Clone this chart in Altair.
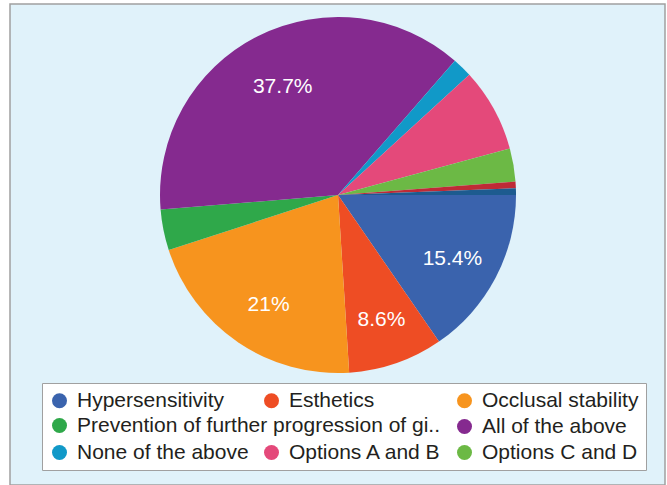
import math
import altair as alt
import pandas as pd

# ---- data ----
categories = [
    "Hypersensitivity",
    "Esthetics",
    "Occlusal stability",
    "Prevention of further progression of gingival recession",
    "All of the above",
    "None of the above",
    "Options A and B",
    "Options C and D",
    "Other (1)",
    "Other (2)",
]
values = [15.4, 8.6, 21.0, 3.7, 37.7, 1.8, 7.6, 3.0, 0.6, 0.6]
colors = ["#3A63AD", "#EE4D24", "#F7941E", "#2FA84A", "#852A8F",
          "#1199C8", "#E4497A", "#6CB945", "#BF2A36", "#1D5B8F"]

# legend layout placeholders (blank slots in the legend grid)
spacers = [" ", "  "]
legend_main = ["Hypersensitivity", "Esthetics", "Occlusal stability",
               " ", "  ", "All of the above",
               "None of the above", "Options A and B", "Options C and D"]
legend_row2 = ["Prevention of further progression of gingival recession"]

df = pd.DataFrame({"category": categories, "value": values,
                   "idx": list(range(len(categories)))})

domain = categories + spacers
rng = colors + ["#FFFFFF", "#FFFFFF"]

FONT = "Liberation Sans"
theta = alt.Theta("value:Q", stack=True,
                  scale=alt.Scale(range=[math.pi / 2, math.pi * 2.5]))
order = alt.Order("idx:Q", sort="ascending")
cx, cy = 328, 191

common_legend = dict(
    title=None, orient="none", direction="horizontal", symbolType="circle",
    symbolSize=225, symbolStrokeWidth=0, labelFont=FONT, labelFontSize=21,
    labelColor="#231F20", labelLimit=450, labelOffset=7,
)

base = alt.Chart(df).transform_calculate(
    label="datum.value >= 8 ? datum.value + '%' : ''"
)

pie = base.mark_arc(outerRadius=178).encode(
    theta=theta,
    order=order,
    x=alt.value(cx),
    y=alt.value(cy),
    color=alt.Color(
        "category:N",
        scale=alt.Scale(domain=domain, range=rng),
        legend=alt.Legend(
            legendX=32, legendY=379, columns=3, values=legend_main,
            columnPadding=12, rowPadding=4, padding=7, gridAlign="each",
            fillColor="#FFFFFF", strokeColor="#A0A0A0", **common_legend,
        ),
    ),
)

ghost = base.mark_arc(outerRadius=0).encode(
    theta=theta,
    order=order,
    x=alt.value(cx),
    y=alt.value(cy),
    fill=alt.Fill(
        "category:N",
        scale=alt.Scale(domain=categories, range=colors),
        legend=alt.Legend(
            legendX=39, legendY=411, values=legend_row2, padding=0,
            labelExpr="length(datum.label) > 39 ? slice(datum.label, 0, 39) + '..' : datum.label",
            **common_legend,
        ),
    ),
)

text = base.mark_text(radius=127, fontSize=21, font=FONT, color="white",
                      dx=2, dy=5).encode(
    theta=theta,
    order=order,
    detail="category:N",
    text="label:N",
    x=alt.value(cx),
    y=alt.value(cy),
)

chart = alt.layer(pie, ghost, text).properties(
    width=655, height=481, autosize="none",
    padding={"left": 10, "top": 4, "right": 2, "bottom": 0},
    background="#FFFFFF",
).configure_view(fill="#E0F2FA", stroke="#A0A0A0", strokeWidth=1.5)

chart.save("out.html", embed_options={"renderer": "svg", "actions": False})
